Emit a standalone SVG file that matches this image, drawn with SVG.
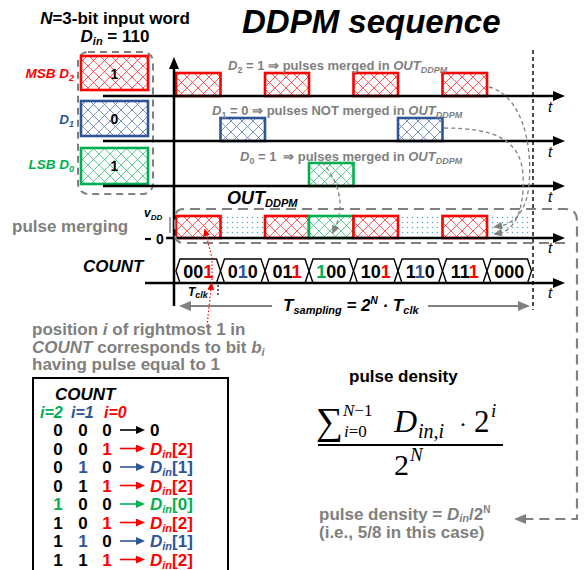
<svg xmlns="http://www.w3.org/2000/svg" width="587" height="570" viewBox="0 0 587 570">
<style>
text{font-family:'Liberation Sans',Arial,sans-serif;font-weight:bold;fill:#000}
.it{font-style:italic}
.g{fill:#7F7F7F}
.r{fill:#FF0000}
.bl{fill:#2F5597}
.gr{fill:#00B050}
.ax{stroke:#000;stroke-width:2.5;fill:none}
.t{font-style:italic;font-weight:normal;font-size:15px}
.pr{fill:url(#hr);stroke:#FF0000;stroke-width:2.6}
.pb{fill:url(#hb);stroke:#2F5597;stroke-width:2.6}
.pg{fill:url(#hg);stroke:#00B050;stroke-width:2.6}
.cell{fill:#fff;stroke:#000;stroke-width:1.4}
.gd{fill:none;stroke:#808080;stroke-width:1.3;stroke-dasharray:4 3}
.math{font-family:'Liberation Serif','DejaVu Serif',serif;font-weight:normal}
</style>
<defs>
<pattern id="hr" patternUnits="userSpaceOnUse" width="11" height="11"><rect width="11" height="11" fill="#fff"/><path d="M0,0L11,11M11,0L0,11" stroke="#FF0000" stroke-width="0.8" opacity="0.8"/></pattern>
<pattern id="hb" patternUnits="userSpaceOnUse" width="11" height="11"><rect width="11" height="11" fill="#fff"/><path d="M0,0L11,11M11,0L0,11" stroke="#2F5597" stroke-width="0.8" opacity="0.8"/></pattern>
<pattern id="hg" patternUnits="userSpaceOnUse" width="11" height="11"><rect width="11" height="11" fill="#fff"/><path d="M0,0L11,11M11,0L0,11" stroke="#00B050" stroke-width="0.8" opacity="0.8"/></pattern>
<pattern id="dots" patternUnits="userSpaceOnUse" width="5" height="5"><circle cx="2.5" cy="2.5" r="0.75" fill="#4BACC6"/></pattern>
<marker id="ak" markerUnits="userSpaceOnUse" markerWidth="12" markerHeight="10" refX="2" refY="5" orient="auto"><path d="M0,0L12,5L0,10z" fill="#000"/></marker>
<marker id="ag" markerUnits="userSpaceOnUse" markerWidth="9" markerHeight="8" refX="2" refY="4" orient="auto"><path d="M0,0L9,4L0,8z" fill="#808080"/></marker>
<marker id="agl" markerUnits="userSpaceOnUse" markerWidth="12" markerHeight="10" refX="2" refY="5" orient="auto"><path d="M0,0L12,5L0,10z" fill="#808080"/></marker>
<marker id="ar" markerUnits="userSpaceOnUse" markerWidth="8" markerHeight="7" refX="2" refY="3.5" orient="auto"><path d="M0,0L8,3.5L0,7z" fill="#FF0000"/></marker>
<marker id="tk" markerUnits="userSpaceOnUse" markerWidth="9" markerHeight="8" refX="1" refY="4" orient="auto"><path d="M0,0L9,4L0,8z" fill="#000"/></marker>
<marker id="tr" markerUnits="userSpaceOnUse" markerWidth="9" markerHeight="8" refX="1" refY="4" orient="auto"><path d="M0,0L9,4L0,8z" fill="#FF0000"/></marker>
<marker id="tb" markerUnits="userSpaceOnUse" markerWidth="9" markerHeight="8" refX="1" refY="4" orient="auto"><path d="M0,0L9,4L0,8z" fill="#2F5597"/></marker>
<marker id="tg" markerUnits="userSpaceOnUse" markerWidth="9" markerHeight="8" refX="1" refY="4" orient="auto"><path d="M0,0L9,4L0,8z" fill="#00B050"/></marker>
</defs>
<rect width="587" height="570" fill="#fff"/>

<g id="title">
<text x="242" y="33" font-size="33" class="it">DDPM sequence</text>
</g>

<g id="input-word">
<text x="115" y="24" font-size="17" text-anchor="middle"><tspan class="it">N</tspan>=3-bit input word</text>
<text x="115" y="42" font-size="17" text-anchor="middle"><tspan class="it">D</tspan><tspan class="it" font-size="11" dy="3">in</tspan><tspan dy="-3"> = 110</tspan></text>
<rect x="78" y="52" width="75" height="142" rx="10" fill="none" stroke="#7F7F7F" stroke-width="2" stroke-dasharray="7 5"/>
</g>

<g id="bit-D2">
<rect x="81" y="56" width="67" height="34" class="pr" stroke-width="3"/>
<text x="114.5" y="79" font-size="14" text-anchor="middle">1</text>
<text x="74" y="78" font-size="13.5" text-anchor="end" class="it r">MSB D<tspan font-size="9" dy="3">2</tspan></text>
</g>
<g id="bit-D1">
<rect x="81" y="101" width="67" height="35" class="pb" stroke-width="3"/>
<text x="114.5" y="124" font-size="14" text-anchor="middle">0</text>
<text x="74" y="124" font-size="13.5" text-anchor="end" class="it bl">D<tspan font-size="9" dy="3">1</tspan></text>
</g>
<g id="bit-D0">
<rect x="81" y="148" width="67" height="36" class="pg" stroke-width="3"/>
<text x="114.5" y="171" font-size="14" text-anchor="middle">1</text>
<text x="74" y="169" font-size="13.5" text-anchor="end" class="it gr">LSB D<tspan font-size="9" dy="3">0</tspan></text>
</g>

<g id="pulses-D2">
<rect x="176" y="73" width="44.5" height="23" class="pr"/>
<rect x="265" y="73" width="44" height="23" class="pr"/>
<rect x="353.5" y="73" width="44.5" height="23" class="pr"/>
<rect x="442.5" y="73" width="44.5" height="23" class="pr"/>
<text x="228" y="70" font-size="13" class="g"><tspan class="it">D</tspan><tspan font-size="9" dy="3">2</tspan><tspan dy="-3"> = 1 ⇒ pulses merged in </tspan><tspan class="it">OUT</tspan><tspan class="it" font-size="9" dy="3">DDPM</tspan></text>
</g>
<g id="pulses-D1">
<rect x="220.5" y="118" width="44.5" height="23" class="pb"/>
<rect x="398" y="118" width="44.5" height="23" class="pb"/>
<text x="212" y="115" font-size="13" class="g"><tspan class="it">D</tspan><tspan font-size="9" dy="3">1</tspan><tspan dy="-3"> = 0 ⇒ pulses NOT merged in </tspan><tspan class="it">OUT</tspan><tspan class="it" font-size="9" dy="3">DDPM</tspan></text>
</g>
<g id="pulses-D0">
<rect x="309" y="163" width="44.5" height="23" class="pg"/>
<text x="240" y="161" font-size="13" class="g"><tspan class="it">D</tspan><tspan font-size="9" dy="3">0</tspan><tspan dy="-3"> = 1 </tspan><tspan dx="3">⇒ pulses merged in </tspan><tspan class="it">OUT</tspan><tspan class="it" font-size="9" dy="3">DDPM</tspan></text>
</g>

<g id="out-ddpm">
<text x="227" y="204" font-size="18" class="it">OUT<tspan font-size="11" dy="3">DDPM</tspan></text>
<rect x="220.5" y="216" width="44.5" height="22" fill="url(#dots)"/>
<rect x="398" y="216" width="44.5" height="22" fill="url(#dots)"/>
<rect x="487" y="216" width="44.5" height="22" fill="url(#dots)"/>
<rect x="176" y="216" width="44.5" height="22" class="pr"/>
<rect x="265" y="216" width="44" height="22" class="pr"/>
<rect x="309" y="216" width="44.5" height="22" class="pg"/>
<rect x="353.5" y="216" width="44.5" height="22" class="pr"/>
<rect x="442.5" y="216" width="44.5" height="22" class="pr"/>
<text x="12" y="232" font-size="17" class="g">pulse merging</text>
<text x="144" y="217" font-size="12" class="it" font-weight="normal">v<tspan font-size="8" dy="3">DD</tspan></text>
<line x1="170" y1="217" x2="170" y2="233" stroke="#808080" stroke-width="1.5"/>
<line x1="145" y1="239" x2="151" y2="239" stroke="#000" stroke-width="2.2"/>
<text x="156" y="244" font-size="14" font-weight="normal">0</text>
</g>

<g id="count">
<text x="83" y="272" font-size="17" class="it">COUNT</text>
<polygon class="cell" points="176,271 180,259 216.5,259 220.5,271 216.5,283 180,283"/>
<polygon class="cell" points="220.5,271 224.5,259 261,259 265,271 261,283 224.5,283"/>
<polygon class="cell" points="265,271 269,259 305,259 309,271 305,283 269,283"/>
<polygon class="cell" points="309,271 313,259 349.5,259 353.5,271 349.5,283 313,283"/>
<polygon class="cell" points="353.5,271 357.5,259 394,259 398,271 394,283 357.5,283"/>
<polygon class="cell" points="398,271 402,259 438.5,259 442.5,271 438.5,283 402,283"/>
<polygon class="cell" points="442.5,271 446.5,259 483,259 487,271 483,283 446.5,283"/>
<polygon class="cell" points="487,271 491,259 527.5,259 531.5,271 527.5,283 491,283"/>
<text x="198.3" y="278" font-size="18" text-anchor="middle">00<tspan class="r">1</tspan></text>
<text x="242.8" y="278" font-size="18" text-anchor="middle">0<tspan class="bl">1</tspan>0</text>
<text x="287" y="278" font-size="18" text-anchor="middle">01<tspan class="r">1</tspan></text>
<text x="331.3" y="278" font-size="18" text-anchor="middle"><tspan class="gr">1</tspan>00</text>
<text x="375.8" y="278" font-size="18" text-anchor="middle">10<tspan class="r">1</tspan></text>
<text x="420.3" y="278" font-size="18" text-anchor="middle">1<tspan class="bl">1</tspan>0</text>
<text x="464.8" y="278" font-size="18" text-anchor="middle">11<tspan class="r">1</tspan></text>
<text x="509.3" y="278" font-size="18" text-anchor="middle">000</text>
<text x="188" y="296" font-size="12" class="it">T<tspan font-size="9" dy="2">clk</tspan></text>
<line x1="218" y1="285" x2="218" y2="297" stroke="#000" stroke-width="1.2" stroke-dasharray="2 2"/>
</g>

<g id="axes">
<path class="ax" d="M174,306V67" marker-end="url(#ak)"/>
<path class="ax" d="M103,96H555" marker-end="url(#ak)"/>
<path class="ax" d="M103,141H555" marker-end="url(#ak)"/>
<path class="ax" d="M103,186H555" marker-end="url(#ak)"/>
<path class="ax" d="M166,238H555" marker-end="url(#ak)"/>
<path class="ax" d="M145,283H555" marker-end="url(#ak)"/>
<line x1="533" y1="50" x2="533" y2="310" stroke="#000" stroke-width="1.4" stroke-dasharray="4 3"/>
<text x="548" y="112" class="t">t</text>
<text x="548" y="157" class="t">t</text>
<text x="548" y="202" class="t">t</text>
<text x="548" y="253" class="t">t</text>
<text x="548" y="298" class="t">t</text>
</g>

<g id="sampling">
<path d="M272,306H189" stroke="#808080" stroke-width="1.8" fill="none" marker-end="url(#agl)"/>
<path d="M428,306H520" stroke="#808080" stroke-width="1.8" fill="none" marker-end="url(#agl)"/>
<text x="283" y="311" font-size="17" class="it">T<tspan font-size="11" dy="3">sampling</tspan><tspan dy="-3"> = 2</tspan><tspan font-size="10" dy="-7">N</tspan><tspan dy="7"> · T</tspan><tspan font-size="11" dy="3">clk</tspan></text>
</g>

<g id="connectors">
<path d="M565,243H184Q175,243 175,234V218Q175,209 184,209H565Q577,209 577,221V519H524" fill="none" stroke="#808080" stroke-width="2.2" stroke-dasharray="10 6" marker-end="url(#agl)"/>
<path class="gd" d="M489,87C520,95 533,140 529,185C526,214 512,224 500,226" marker-end="url(#ag)"/>
<path class="gd" d="M444,128C495,128 521,140 523,175C525,214 512,231 500,233" marker-end="url(#ag)"/>
<path class="gd" d="M322,162C338,180 346,205 335,228" marker-end="url(#ag)"/>
<path d="M207,326L211,288" fill="none" stroke="#FF0000" stroke-width="1.2" stroke-dasharray="1.5 2" marker-end="url(#ar)"/>
<path d="M212,280L212,258L206,234" fill="none" stroke="#FF0000" stroke-width="1.2" stroke-dasharray="1.5 2" marker-end="url(#ar)"/>
</g>

<g id="explanation">
<text x="32" y="335" font-size="17" class="g">position <tspan class="it">i</tspan> of rightmost 1 in</text>
<text x="32" y="352.5" font-size="17" class="g"><tspan class="it">COUNT</tspan> corresponds to bit <tspan class="it">b</tspan><tspan class="it" font-size="11" dy="3">i</tspan></text>
<text x="32" y="370" font-size="17" class="g">having pulse equal to 1</text>
</g>

<g id="count-table">
<rect x="33" y="378" width="195" height="200" fill="#fff" stroke="#000" stroke-width="2"/>
<text x="55" y="400" font-size="17" class="it">COUNT</text>
<text x="40" y="418" font-size="16" class="it gr">i=2</text>
<text x="71" y="418" font-size="16" class="it bl">i=1</text>
<text x="104" y="418" font-size="16" class="it r">i=0</text>
<g font-size="17" text-anchor="middle">
<text x="58" y="436">0</text><text x="83" y="436">0</text><text x="107" y="436">0</text>
<text x="58" y="454.5">0</text><text x="83" y="454.5">0</text><text x="107" y="454.5" class="r">1</text>
<text x="58" y="473">0</text><text x="83" y="473" class="bl">1</text><text x="107" y="473">0</text>
<text x="58" y="491.5">0</text><text x="83" y="491.5">1</text><text x="107" y="491.5" class="r">1</text>
<text x="58" y="510" class="gr">1</text><text x="83" y="510">0</text><text x="107" y="510">0</text>
<text x="58" y="528.5">1</text><text x="83" y="528.5">0</text><text x="107" y="528.5" class="r">1</text>
<text x="58" y="547">1</text><text x="83" y="547" class="bl">1</text><text x="107" y="547">0</text>
<text x="58" y="565.5">1</text><text x="83" y="565.5">1</text><text x="107" y="565.5" class="r">1</text>
</g>
<g fill="none" stroke-width="1.6">
<path d="M120,430H137" stroke="#000" marker-end="url(#tk)"/>
<path d="M120,448.5H137" stroke="#FF0000" marker-end="url(#tr)"/>
<path d="M120,467H137" stroke="#2F5597" marker-end="url(#tb)"/>
<path d="M120,485.5H137" stroke="#FF0000" marker-end="url(#tr)"/>
<path d="M120,504H137" stroke="#00B050" marker-end="url(#tg)"/>
<path d="M120,522.5H137" stroke="#FF0000" marker-end="url(#tr)"/>
<path d="M120,541H137" stroke="#2F5597" marker-end="url(#tb)"/>
<path d="M120,559.5H137" stroke="#FF0000" marker-end="url(#tr)"/>
</g>
<g font-size="17">
<text x="150" y="436">0</text>
<text x="150" y="454.5" class="r"><tspan class="it">D</tspan><tspan class="it" font-size="11" dy="3">in</tspan><tspan dy="-3">[2]</tspan></text>
<text x="150" y="473" class="bl"><tspan class="it">D</tspan><tspan class="it" font-size="11" dy="3">in</tspan><tspan dy="-3">[1]</tspan></text>
<text x="150" y="491.5" class="r"><tspan class="it">D</tspan><tspan class="it" font-size="11" dy="3">in</tspan><tspan dy="-3">[2]</tspan></text>
<text x="150" y="510" class="gr"><tspan class="it">D</tspan><tspan class="it" font-size="11" dy="3">in</tspan><tspan dy="-3">[0]</tspan></text>
<text x="150" y="528.5" class="r"><tspan class="it">D</tspan><tspan class="it" font-size="11" dy="3">in</tspan><tspan dy="-3">[2]</tspan></text>
<text x="150" y="547" class="bl"><tspan class="it">D</tspan><tspan class="it" font-size="11" dy="3">in</tspan><tspan dy="-3">[1]</tspan></text>
<text x="150" y="565.5" class="r"><tspan class="it">D</tspan><tspan class="it" font-size="11" dy="3">in</tspan><tspan dy="-3">[2]</tspan></text>
</g>
</g>

<g id="pulse-density">
<text x="349" y="382" font-size="17">pulse density</text>
<text x="316" y="434" font-size="38" class="math">∑</text>
<text x="343" y="416" font-size="17" class="math"><tspan font-style="italic">N</tspan>−1</text>
<text x="344" y="437" font-size="17" class="math"><tspan font-style="italic">i</tspan>=0</text>
<text x="394" y="432" font-size="32" class="math" font-style="italic">D</text>
<text x="418" y="438" font-size="20" class="math" font-style="italic">in,i</text>
<text x="459" y="432" font-size="24" class="math">·</text>
<text x="474" y="432" font-size="31" class="math">2</text>
<text x="491" y="417" font-size="19" class="math" font-style="italic">i</text>
<line x1="318" y1="445" x2="503" y2="445" stroke="#000" stroke-width="2"/>
<text x="394" y="475" font-size="30" class="math">2</text>
<text x="410" y="461" font-size="19" class="math" font-style="italic">N</text>
<text x="319" y="520" font-size="17" class="g">pulse density = <tspan class="it">D</tspan><tspan class="it" font-size="11" dy="2">in</tspan><tspan dy="-2">/2</tspan><tspan font-size="10" dy="-7">N</tspan></text>
<text x="319" y="538" font-size="17" class="g">(i.e., 5/8 in this case)</text>
</g>
</svg>
